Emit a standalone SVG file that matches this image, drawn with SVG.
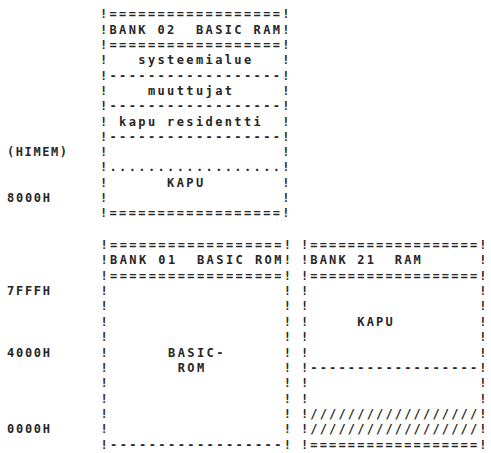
<svg xmlns="http://www.w3.org/2000/svg" width="491" height="453" viewBox="0 0 491 453" xml:space="preserve">
<style>
text{font-family:"DejaVu Sans Mono","Liberation Mono",monospace;font-size:12px;font-weight:bold;fill:#262626;white-space:pre}
</style>
<rect width="491" height="453" fill="#ffffff"/>
<g id="addresses">
<text x="7" y="156.1" textLength="60" lengthAdjust="spacing">(HIMEM)</text>
<text x="7" y="202" textLength="43" lengthAdjust="spacing">8000H</text>
<text x="7" y="295.1" textLength="43" lengthAdjust="spacing">7FFFH</text>
<text x="7" y="356.5" textLength="43" lengthAdjust="spacing">4000H</text>
<text x="7" y="433.2" textLength="43" lengthAdjust="spacing">0000H</text>
</g>
<g id="bank02">
<text x="99.9" y="18.4" textLength="189.7" lengthAdjust="spacing">!==================!</text>
<text x="99.9" y="33.7" textLength="189.7" lengthAdjust="spacing">!BANK 02  BASIC RAM!</text>
<text x="99.9" y="49" textLength="189.7" lengthAdjust="spacing">!==================!</text>
<text x="99.9" y="64.3" textLength="189.7" lengthAdjust="spacing">!   systeemialue   !</text>
<text x="99.9" y="79.6" textLength="189.7" lengthAdjust="spacing">!------------------!</text>
<text x="99.9" y="94.9" textLength="189.7" lengthAdjust="spacing">!    muuttujat     !</text>
<text x="99.9" y="110.2" textLength="189.7" lengthAdjust="spacing">!------------------!</text>
<text x="99.9" y="125.5" textLength="189.7" lengthAdjust="spacing">! kapu residentti  !</text>
<text x="99.9" y="140.8" textLength="189.7" lengthAdjust="spacing">!------------------!</text>
<text x="99.9" y="156.1" textLength="189.7" lengthAdjust="spacing">!                  !</text>
<text x="99.9" y="171.4" textLength="189.7" lengthAdjust="spacing">!..................!</text>
<text x="99.9" y="186.7" textLength="189.7" lengthAdjust="spacing">!      KAPU        !</text>
<text x="99.9" y="202" textLength="189.7" lengthAdjust="spacing">!                  !</text>
<text x="99.9" y="217.3" textLength="189.7" lengthAdjust="spacing">!==================!</text>
</g>
<g id="bank01">
<text x="100.4" y="249" textLength="190.7" lengthAdjust="spacing">!==================!</text>
<text x="100.4" y="264.4" textLength="190.7" lengthAdjust="spacing">!BANK 01  BASIC ROM!</text>
<text x="100.4" y="279.7" textLength="190.7" lengthAdjust="spacing">!==================!</text>
<text x="100.4" y="295.1" textLength="190.7" lengthAdjust="spacing">!                  !</text>
<text x="100.4" y="310.4" textLength="190.7" lengthAdjust="spacing">!                  !</text>
<text x="100.4" y="325.8" textLength="190.7" lengthAdjust="spacing">!                  !</text>
<text x="100.4" y="341.1" textLength="190.7" lengthAdjust="spacing">!                  !</text>
<text x="100.4" y="356.5" textLength="190.7" lengthAdjust="spacing">!      BASIC-      !</text>
<text x="100.4" y="371.8" textLength="190.7" lengthAdjust="spacing">!       ROM        !</text>
<text x="100.4" y="387.2" textLength="190.7" lengthAdjust="spacing">!                  !</text>
<text x="100.4" y="402.5" textLength="190.7" lengthAdjust="spacing">!                  !</text>
<text x="100.4" y="417.9" textLength="190.7" lengthAdjust="spacing">!                  !</text>
<text x="100.4" y="433.2" textLength="190.7" lengthAdjust="spacing">!                  !</text>
<text x="100.4" y="448.5" textLength="190.7" lengthAdjust="spacing">!------------------!</text>
</g>
<g id="bank21">
<text x="300.9" y="249" textLength="185.7" lengthAdjust="spacing">!==================!</text>
<text x="300.9" y="264.4" textLength="185.7" lengthAdjust="spacing">!BANK 21  RAM      !</text>
<text x="300.9" y="279.7" textLength="185.7" lengthAdjust="spacing">!==================!</text>
<text x="300.9" y="295.1" textLength="185.7" lengthAdjust="spacing">!                  !</text>
<text x="300.9" y="310.4" textLength="185.7" lengthAdjust="spacing">!                  !</text>
<text x="300.9" y="325.8" textLength="185.7" lengthAdjust="spacing">!     KAPU         !</text>
<text x="300.9" y="341.1" textLength="185.7" lengthAdjust="spacing">!                  !</text>
<text x="300.9" y="356.5" textLength="185.7" lengthAdjust="spacing">!                  !</text>
<text x="300.9" y="371.8" textLength="185.7" lengthAdjust="spacing">!------------------!</text>
<text x="300.9" y="387.2" textLength="185.7" lengthAdjust="spacing">!                  !</text>
<text x="300.9" y="402.5" textLength="185.7" lengthAdjust="spacing">!                  !</text>
<text x="300.9" y="417.9" textLength="185.7" lengthAdjust="spacing">!//////////////////!</text>
<text x="300.9" y="433.2" textLength="185.7" lengthAdjust="spacing">!//////////////////!</text>
<text x="300.9" y="448.5" textLength="185.7" lengthAdjust="spacing">!==================!</text>
</g>
</svg>
